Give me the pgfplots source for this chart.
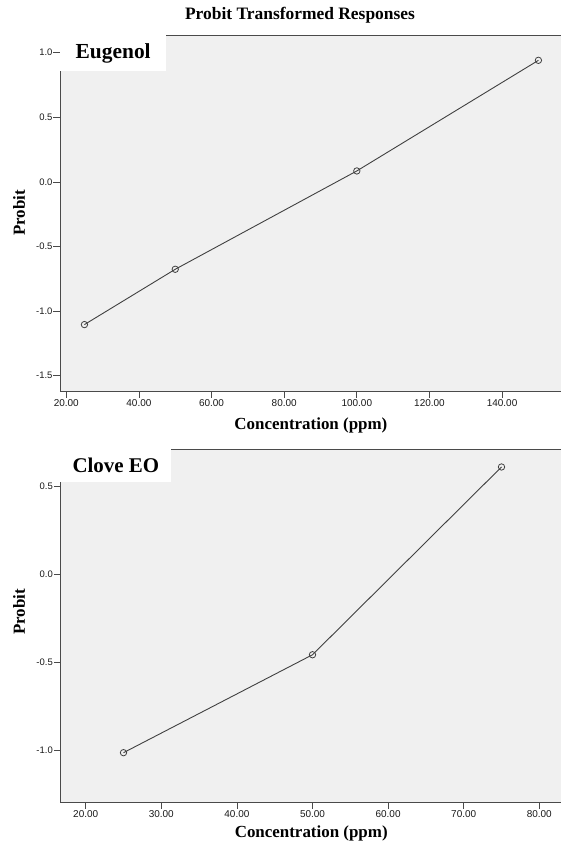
\documentclass[border=0pt]{standalone}
\usepackage{pgfplots}
\pgfplotsset{compat=1.18}
\usepackage{fontspec}
\setmainfont{Liberation Serif}
\newfontfamily\arialf{Liberation Sans}
\definecolor{bgc}{HTML}{F0F0F0}
\definecolor{linec}{HTML}{404040}
\definecolor{axc}{HTML}{4A4A4A}
\pgfplotsset{
  panel/.style={
    scale only axis, width=510bp,
    axis background/.style={fill=bgc},
    axis line style={draw=axc, line width=1pt},
    tick style={draw=axc, line width=0.8pt},
    tick align=outside, xtick pos=bottom, ytick pos=left,
    major tick length=6.5bp,
    xticklabel style={font=\arialf\fontsize{10}{11}\selectfont, text=black!90, inner ysep=1.5bp},
    yticklabel style={font=\arialf\fontsize{9.5}{10}\selectfont, text=black!90, inner xsep=0.8bp},
    label style={font=\bfseries\fontsize{17}{19}\selectfont},
    xlabel style={at={(axis description cs:0.492,0)}, anchor=center, yshift=-34.5bp},
    clip=false,
  },
  dataline/.style={color=linec, line width=0.9pt, mark=o, mark size=3.2bp, mark options={line width=0.8pt, draw=linec}},
}
\begin{document}
\begin{tikzpicture}
\useasboundingbox (0,0) rectangle (561bp,-843bp);
\begin{axis}[panel, at={(60bp,-35bp)}, anchor=north west, height=356bp,
  xmin=18.27, xmax=158.7, ymin=-1.618, ymax=1.137,
  xtick={20,40,60,80,100,120,140},
  xticklabels={20.00,40.00,60.00,80.00,100.00,120.00,140.00},
  ytick={-1.5,-1,-0.5,0,0.5,1},
  yticklabels={-1.5,-1.0,-0.5,0.0,0.5,1.0},
  xlabel={Concentration (ppm)}, ylabel={Probit},
  ylabel style={at={(axis description cs:-0.0804,0.5)}, anchor=center},
  title={Probit Transformed Responses},
  title style={at={(axis description cs:0.4706,1)}, anchor=center, yshift=14bp, font=\bfseries\fontsize{17.5}{19}\selectfont},
]
\addplot[dataline] coordinates {(25,-1.104) (50,-0.676) (100,0.085) (150,0.941)};
\node[fill=white, anchor=north west, minimum width=106bp, minimum height=35.7bp, inner sep=0pt, font=\bfseries\fontsize{21.5}{23}\selectfont] at (rel axis cs:0,1) {Eugenol};
\end{axis}
\begin{axis}[panel, at={(60.3bp,-449bp)}, anchor=north west, height=353bp,
  xmin=16.64, xmax=84.1, ymin=-1.294, ymax=0.71,
  xtick={20,30,40,50,60,70,80},
  xticklabels={20.00,30.00,40.00,50.00,60.00,70.00,80.00},
  ytick={-1,-0.5,0,0.5},
  yticklabels={-1.0,-0.5,0.0,0.5},
  xlabel={Concentration (ppm)}, ylabel={Probit},
  xlabel style={yshift=3bp},
  ylabel style={at={(axis description cs:-0.081,0.538)}, anchor=center},
]
\addplot[dataline] coordinates {(25,-1.014) (50,-0.458) (75,0.608)};
\node[fill=white, anchor=north west, minimum width=110.7bp, minimum height=33bp, inner sep=0pt, font=\bfseries\fontsize{21}{23}\selectfont] at (rel axis cs:0,1) {Clove EO};
\end{axis}
\end{tikzpicture}
\end{document}
